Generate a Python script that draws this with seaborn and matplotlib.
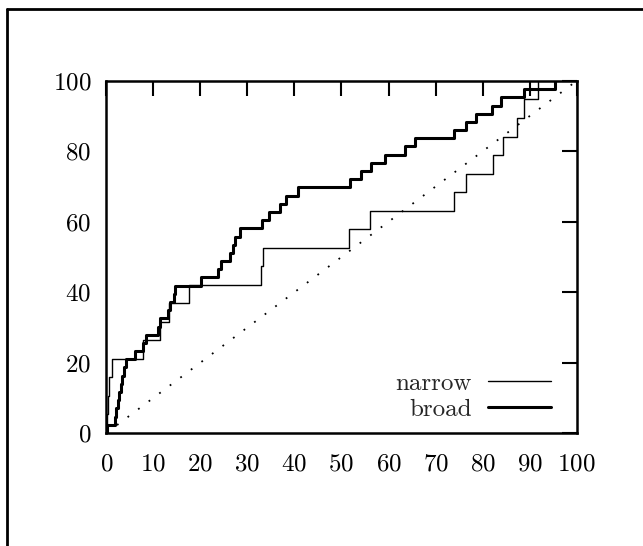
import matplotlib
matplotlib.use("Agg")
import matplotlib.pyplot as plt
import seaborn as sns
from matplotlib.lines import Line2D

# sample values (percent of cases below x)
narrow = [0.1, 0.3, 0.6, 1.1, 7.8, 11.3, 13.2, 17.6, 32.8, 33.4,
          51.6, 56.1, 74.0, 76.4, 82.2, 84.3, 87.3, 88.9, 91.8]
broad = [0.1, 1.8, 2.1, 2.4, 2.7, 3.0, 3.4, 3.7, 4.1, 6.0,
         7.8, 8.5, 11.0, 11.3, 13.0, 13.6, 14.3, 14.6, 20.1, 23.8,
         24.4, 26.2, 27.0, 27.3, 28.5, 33.0, 34.5, 36.9, 38.2, 40.7,
         51.8, 54.2, 56.3, 59.2, 63.5, 65.6, 74.0, 76.5, 78.7, 82.1,
         84.0, 88.9, 95.4]
diag = [0, 100]
ticks = [0, 10, 20, 30, 40, 50, 60, 70, 80, 90, 100]
yticks = [0, 20, 40, 60, 80, 100]

sns.set_style("white")
plt.rcParams['font.family'] = ['cmr10', 'DejaVu Serif']
plt.rcParams['axes.formatter.use_mathtext'] = True

fig = plt.figure(figsize=(6.43, 5.46), dpi=100)
ax = fig.add_axes([0.1656, 0.2070, 0.7310, 0.6447])

sns.ecdfplot(x=narrow, stat='percent', color='black', lw=1.0, ax=ax, label='narrow')
sns.ecdfplot(x=broad, stat='percent', color='black', lw=2.2, ax=ax, label='broad')
sns.lineplot(x=diag, y=diag, color='black', lw=1.3, linestyle=(0, (1.0, 6.3)), ax=ax)

ax.set_xlim(0, 100)
ax.set_ylim(0, 100)
ax.set_xticks(ticks)
ax.set_yticks(yticks)
ax.set_xlabel('')
ax.set_ylabel('')
ax.tick_params(direction='in', length=10.5, width=1.5, top=True, right=True,
               labelsize=18, colors='black')
ax.tick_params(axis='x', pad=15)
ax.tick_params(axis='y', pad=11)
for s in ax.spines.values():
    s.set_linewidth(1.8)
    s.set_color('black')

ax.legend(loc='lower right', bbox_to_anchor=(0.977, -0.008), frameon=False,
          markerfirst=False, fontsize=18, handlelength=2.5, labelspacing=0.15,
          handletextpad=0.65, borderaxespad=0.2)

# page frame (top and left edges only, the rest is cut off)
fig.add_artist(Line2D([7 / 643, 1], [1 - 9 / 546, 1 - 9 / 546], color='black', lw=2.0))
fig.add_artist(Line2D([7 / 643, 7 / 643], [0, 1 - 9 / 546], color='black', lw=2.0))

fig.savefig("out.png", dpi=100, facecolor='white')
